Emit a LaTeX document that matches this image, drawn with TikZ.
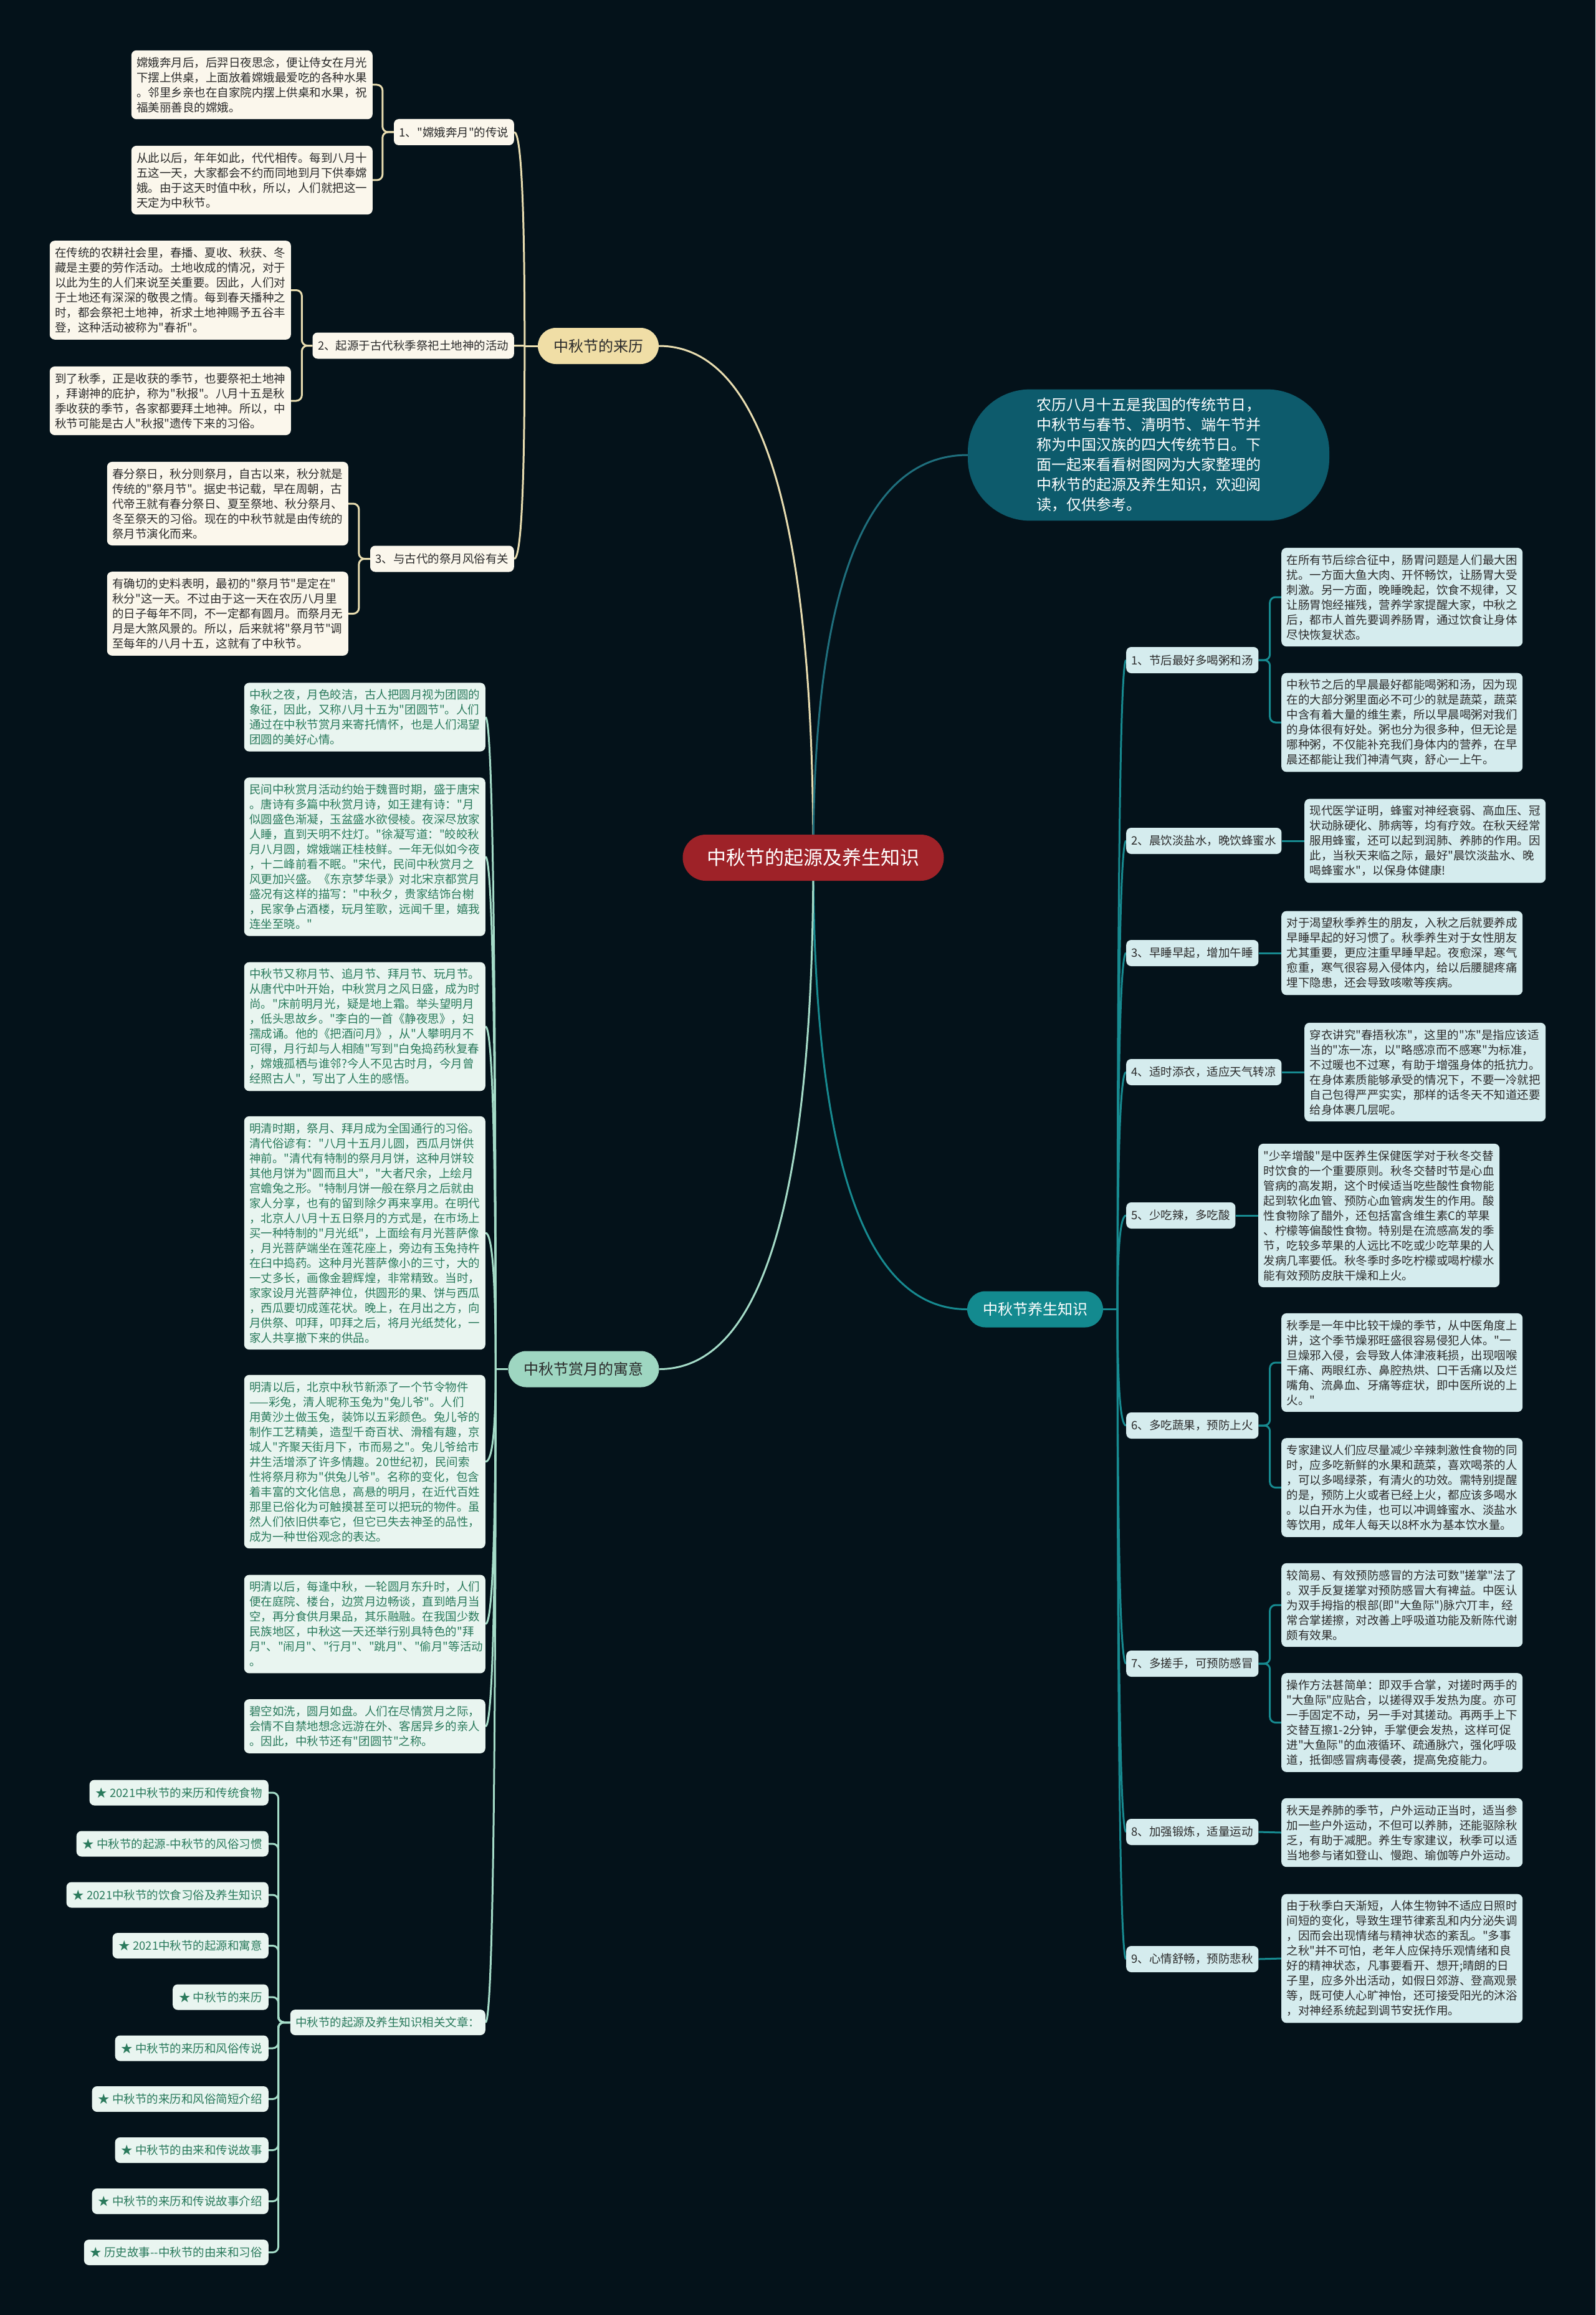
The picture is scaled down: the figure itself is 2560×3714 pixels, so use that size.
\documentclass[tikz,border=0pt]{standalone}
\usepackage{fontspec}
\newfontfamily\cjk{Noto Sans CJK SC}
\usetikzlibrary{calc}
\definecolor{bgc}{HTML}{04121A}
\definecolor{rootc}{HTML}{9E2228}
\definecolor{tanc}{HTML}{F0DEA6}
\definecolor{lineY}{HTML}{E9DDB0}
\definecolor{creamc}{HTML}{FBF7EC}
\definecolor{darktext}{HTML}{2B2B2B}
\definecolor{mintc}{HTML}{9ED6C1}
\definecolor{lineG}{HTML}{A5DCC8}
\definecolor{mintl}{HTML}{E9F5F0}
\definecolor{greentext}{HTML}{2A7A5C}
\definecolor{tealc}{HTML}{138A8F}
\definecolor{lineT}{HTML}{178A90}
\definecolor{cyanl}{HTML}{D5ECEE}
\definecolor{introc}{HTML}{0D5B6C}
\definecolor{lineI}{HTML}{1F6F7D}
\pgfdeclarelayer{bglayer}
\pgfdeclarelayer{edges}
\pgfsetlayers{bglayer,edges,main}
\newcommand\mmqcurve[3]{%
  \coordinate (qctl) at (#2 |- #3);
  \draw[#1] (#2) .. controls ($(#2)!0.667!(qctl)$) and ($(#3)!0.667!(qctl)$) .. (#3);}
\tikzset{
  basebox/.style={font=\cjk\fontsize{18.5}{24}\selectfont, inner xsep=8.5pt, inner ysep=10.5pt, rounded corners=8pt},
  leafY/.style={basebox, fill=creamc, text=darktext, text width=370pt, align=left},
  subY/.style={basebox, fill=creamc, text=darktext, minimum height=42pt, inner ysep=3pt},
  leafG/.style={basebox, fill=mintl, text=greentext, text width=370pt, align=left},
  itemG/.style={basebox, fill=mintl, text=greentext, minimum height=41pt, inner ysep=3pt, inner xsep=10pt},
  leafT/.style={basebox, fill=cyanl, text=darktext, text width=370pt, align=left},
  subT/.style={basebox, fill=cyanl, text=darktext, minimum height=42pt, inner ysep=3pt},
  mainbox/.style={font=\cjk\fontsize{24}{30}\selectfont, minimum height=58pt, inner xsep=25pt, inner ysep=3pt, rounded corners=29pt},
  mainY/.style={mainbox, fill=tanc, text=darktext},
  mainG/.style={mainbox, fill=mintc, text=darktext},
  mainT/.style={mainbox, fill=tealc, text=white},
  rootbox/.style={font=\cjk\fontsize{31}{36}\selectfont, fill=rootc, text=white, minimum height=74pt, inner xsep=39pt, inner ysep=3pt, rounded corners=37pt},
  introbox/.style={font=\cjk\fontsize{24}{32}\selectfont, fill=introc, text=white, text width=360pt, align=left, inner xsep=110pt, inner ysep=14pt, rounded corners=100pt},
  lnY/.style={draw=lineY, line width=3pt},
  lnG/.style={draw=lineG, line width=3pt},
  lnT/.style={draw=lineT, line width=3pt},
  lnI/.style={draw=lineI, line width=3pt}
}
\begin{document}
\begin{tikzpicture}[x=1pt,y=-1pt]
\begin{pgfonlayer}{bglayer}
\fill[bgc] (0,0) rectangle (2560,3714);
\end{pgfonlayer}
\path[use as bounding box] (0,0) rectangle (2560,3714);

% root and main branches
\node[rootbox] (root) at (1305,1376) {中秋节的起源及养生知识};
\node[introbox] (intro) at (1843,730) {农历八月十五是我国的传统节日，\\中秋节与春节、清明节、端午节并\\称为中国汉族的四大传统节日。下\\面一起来看看树图网为大家整理的\\中秋节的起源及养生知识，欢迎阅\\读，仅供参考。};
\node[mainY] (lai) at (960,555) {中秋节的来历};
\node[mainG] (shang) at (936.5,2196.5) {中秋节赏月的寓意};
\node[mainT] (yang) at (1661,2100.5) {中秋节养生知识};

% 来历 group
\node[subY, anchor=east] (s1) at (825,212) {1、"嫦娥奔月"的传说};
\node[subY, anchor=east] (s2) at (825,554.5) {2、起源于古代秋季祭祀土地神的活动};
\node[subY, anchor=east] (s3) at (825,896.5) {3、与古代的祭月风俗有关};
\node[leafY, anchor=east] (l1a) at (598,136) {嫦娥奔月后，后羿日夜思念，便让侍女在月光\\下摆上供桌，上面放着嫦娥最爱吃的各种水果\\。邻里乡亲也在自家院内摆上供桌和水果，祝\\福美丽善良的嫦娥。};
\node[leafY, anchor=east] (l1b) at (598,289) {从此以后，年年如此，代代相传。每到八月十\\五这一天，大家都会不约而同地到月下供奉嫦\\娥。由于这天时值中秋，所以，人们就把这一\\天定为中秋节。};
\node[leafY, anchor=east] (l2a) at (467,465.5) {在传统的农耕社会里，春播、夏收、秋获、冬\\藏是主要的劳作活动。土地收成的情况，对于\\以此为生的人们来说至关重要。因此，人们对\\于土地还有深深的敬畏之情。每到春天播种之\\时，都会祭祀土地神，祈求土地神赐予五谷丰\\登，这种活动被称为"春祈"。};
\node[leafY, anchor=east] (l2b) at (467,643) {到了秋季，正是收获的季节，也要祭祀土地神\\，拜谢神的庇护，称为"秋报"。八月十五是秋\\季收获的季节，各家都要拜土地神。所以，中\\秋节可能是古人"秋报"遗传下来的习俗。};
\node[leafY, anchor=east] (l3a) at (559,808) {春分祭日，秋分则祭月，自古以来，秋分就是\\传统的"祭月节"。据史书记载，早在周朝，古\\代帝王就有春分祭日、夏至祭地、秋分祭月、\\冬至祭天的习俗。现在的中秋节就是由传统的\\祭月节演化而来。};
\node[leafY, anchor=east] (l3b) at (559,984.5) {有确切的史料表明，最初的"祭月节"是定在"\\秋分"这一天。不过由于这一天在农历八月里\\的日子每年不同，不一定都有圆月。而祭月无\\月是大煞风景的。所以，后来就将"祭月节"调\\至每年的八月十五，这就有了中秋节。};

% 赏月 group
\node[leafG, anchor=east] (g1) at (779,1150.5) {中秋之夜，月色皎洁，古人把圆月视为团圆的\\象征，因此，又称八月十五为"团圆节"。人们\\通过在中秋节赏月来寄托情怀，也是人们渴望\\团圆的美好心情。};
\node[leafG, anchor=east] (g2) at (779,1374.5) {民间中秋赏月活动约始于魏晋时期，盛于唐宋\\。唐诗有多篇中秋赏月诗，如王建有诗："月\\似圆盛色渐凝，玉盆盛水欲侵棱。夜深尽放家\\人睡，直到天明不炷灯。"徐凝写道："皎皎秋\\月八月圆，嫦娥端正桂枝鲜。一年无似如今夜\\，十二峰前看不眠。"宋代，民间中秋赏月之\\风更加兴盛。《东京梦华录》对北宋京都赏月\\盛况有这样的描写："中秋夕，贵家结饰台榭\\，民家争占酒楼，玩月笙歌，远闻千里，嬉我\\连坐至晓。"};
\node[leafG, anchor=east] (g3) at (779,1647) {中秋节又称月节、追月节、拜月节、玩月节。\\从唐代中叶开始，中秋赏月之风日盛，成为时\\尚。"床前明月光，疑是地上霜。举头望明月\\，低头思故乡。"李白的一首《静夜思》，妇\\孺成诵。他的《把酒问月》，从"人攀明月不\\可得，月行却与人相随"写到"白兔捣药秋复春\\，嫦娥孤栖与谁邻?今人不见古时月，今月曾\\经照古人"，写出了人生的感悟。};
\node[leafG, anchor=east] (g4) at (779,1978) {明清时期，祭月、拜月成为全国通行的习俗。\\清代俗谚有："八月十五月儿圆，西瓜月饼供\\神前。"清代有特制的祭月月饼，这种月饼较\\其他月饼为"圆而且大"，"大者尺余，上绘月\\宫蟾兔之形。"特制月饼一般在祭月之后就由\\家人分享，也有的留到除夕再来享用。在明代\\，北京人八月十五日祭月的方式是，在市场上\\买一种特制的"月光纸"，上面绘有月光菩萨像\\，月光菩萨端坐在莲花座上，旁边有玉兔持杵\\在臼中捣药。这种月光菩萨像小的三寸，大的\\一丈多长，画像金碧辉煌，非常精致。当时，\\家家设月光菩萨神位，供圆形的果、饼与西瓜\\，西瓜要切成莲花状。晚上，在月出之方，向\\月供祭、叩拜，叩拜之后，将月光纸焚化，一\\家人共享撤下来的供品。};
\node[leafG, anchor=east] (g5) at (779,2345) {明清以后，北京中秋节新添了一个节令物件\\——彩兔，清人昵称玉兔为"兔儿爷"。人们\\用黄沙土做玉兔，装饰以五彩颜色。兔儿爷的\\制作工艺精美，造型千奇百状、滑稽有趣，京\\城人"齐聚天街月下，市而易之"。兔儿爷给市\\井生活增添了许多情趣。20世纪初，民间索\\性将祭月称为"供兔儿爷"。名称的变化，包含\\着丰富的文化信息，高悬的明月，在近代百姓\\那里已俗化为可触摸甚至可以把玩的物件。虽\\然人们依旧供奉它，但它已失去神圣的品性，\\成为一种世俗观念的表达。};
\node[leafG, anchor=east] (g6) at (779,2605.5) {明清以后，每逢中秋，一轮圆月东升时，人们\\便在庭院、楼台，边赏月边畅谈，直到皓月当\\空，再分食供月果品，其乐融融。在我国少数\\民族地区，中秋这一天还举行别具特色的"拜\\月"、"闹月"、"行月"、"跳月"、"偷月"等活动\\。};
\node[leafG, anchor=east] (g7) at (779,2769.5) {碧空如洗，圆月如盘。人们在尽情赏月之际，\\会情不自禁地想念远游在外、客居异乡的亲人\\。因此，中秋节还有"团圆节"之称。};
\node[itemG, anchor=east, inner xsep=8.5pt] (rel) at (779,3244.5) {中秋节的起源及养生知识相关文章：};
\node[itemG, anchor=east] (it1) at (431,2876) {★ 2021中秋节的来历和传统食物};
\node[itemG, anchor=east] (it2) at (431,2958) {★ 中秋节的起源-中秋节的风俗习惯};
\node[itemG, anchor=east] (it3) at (431,3040) {★ 2021中秋节的饮食习俗及养生知识};
\node[itemG, anchor=east] (it4) at (431,3121.5) {★ 2021中秋节的起源和寓意};
\node[itemG, anchor=east] (it5) at (431,3204) {★ 中秋节的来历};
\node[itemG, anchor=east] (it6) at (431,3286) {★ 中秋节的来历和风俗传说};
\node[itemG, anchor=east] (it7) at (431,3367.5) {★ 中秋节的来历和风俗简短介绍};
\node[itemG, anchor=east] (it8) at (431,3449.5) {★ 中秋节的由来和传说故事};
\node[itemG, anchor=east] (it9) at (431,3531.5) {★ 中秋节的来历和传说故事介绍};
\node[itemG, anchor=east] (it10) at (431,3613.5) {★ 历史故事-{}-中秋节的由来和习俗};

% 养生 group
\node[subT, anchor=west] (t1) at (1807,1059) {1、节后最好多喝粥和汤};
\node[subT, anchor=west] (t2) at (1807,1349) {2、晨饮淡盐水，晚饮蜂蜜水};
\node[subT, anchor=west] (t3) at (1807,1529) {3、早睡早起，增加午睡};
\node[subT, anchor=west] (t4) at (1807,1720) {4、适时添衣，适应天气转凉};
\node[subT, anchor=west] (t5) at (1807,1950) {5、少吃辣，多吃酸};
\node[subT, anchor=west] (t6) at (1807,2287) {6、多吃蔬果，预防上火};
\node[subT, anchor=west] (t7) at (1807,2669) {7、多搓手，可预防感冒};
\node[subT, anchor=west] (t8) at (1807,2939) {8、加强锻炼，适量运动};
\node[subT, anchor=west] (t9) at (1807,3143) {9、心情舒畅，预防悲秋};
\node[leafT, anchor=west] (t1a) at (2056,958) {在所有节后综合征中，肠胃问题是人们最大困\\扰。一方面大鱼大肉、开怀畅饮，让肠胃大受\\刺激。另一方面，晚睡晚起，饮食不规律，又\\让肠胃饱经摧残，营养学家提醒大家，中秋之\\后，都市人首先要调养肠胃，通过饮食让身体\\尽快恢复状态。};
\node[leafT, anchor=west] (t1b) at (2056,1159) {中秋节之后的早晨最好都能喝粥和汤，因为现\\在的大部分粥里面必不可少的就是蔬菜，蔬菜\\中含有着大量的维生素，所以早晨喝粥对我们\\的身体很有好处。粥也分为很多种，但无论是\\哪种粥，不仅能补充我们身体内的营养，在早\\晨还都能让我们神清气爽，舒心一上午。};
\node[leafT, anchor=west] (t2L) at (2093,1349) {现代医学证明，蜂蜜对神经衰弱、高血压、冠\\状动脉硬化、肺病等，均有疗效。在秋天经常\\服用蜂蜜，还可以起到润肺、养肺的作用。因\\此，当秋天来临之际，最好"晨饮淡盐水、晚\\喝蜂蜜水"，以保身体健康!};
\node[leafT, anchor=west] (t3L) at (2056,1529) {对于渴望秋季养生的朋友，入秋之后就要养成\\早睡早起的好习惯了。秋季养生对于女性朋友\\尤其重要，更应注重早睡早起。夜愈深，寒气\\愈重，寒气很容易入侵体内，给以后腰腿疼痛\\埋下隐患，还会导致咳嗽等疾病。};
\node[leafT, anchor=west] (t4L) at (2093,1720) {穿衣讲究"春捂秋冻"，这里的"冻"是指应该适\\当的"冻一冻，以"略感凉而不感寒"为标准，\\不过暖也不过寒，有助于增强身体的抵抗力。\\在身体素质能够承受的情况下，不要一冷就把\\自己包得严严实实，那样的话冬天不知道还要\\给身体裹几层呢。};
\node[leafT, anchor=west] (t5L) at (2019,1950) {"少辛增酸"是中医养生保健医学对于秋冬交替\\时饮食的一个重要原则。秋冬交替时节是心血\\管病的高发期，这个时候适当吃些酸性食物能\\起到软化血管、预防心血管病发生的作用。酸\\性食物除了醋外，还包括富含维生素C的苹果\\、柠檬等偏酸性食物。特别是在流感高发的季\\节，吃较多苹果的人远比不吃或少吃苹果的人\\发病几率要低。秋冬季时多吃柠檬或喝柠檬水\\能有效预防皮肤干燥和上火。};
\node[leafT, anchor=west] (t6a) at (2056,2186) {秋季是一年中比较干燥的季节，从中医角度上\\讲，这个季节燥邪旺盛很容易侵犯人体。"一\\旦燥邪入侵，会导致人体津液耗损，出现咽喉\\干痛、两眼红赤、鼻腔热烘、口干舌痛以及烂\\嘴角、流鼻血、牙痛等症状，即中医所说的上\\火。"};
\node[leafT, anchor=west] (t6b) at (2056,2386.5) {专家建议人们应尽量减少辛辣刺激性食物的同\\时，应多吃新鲜的水果和蔬菜，喜欢喝茶的人\\，可以多喝绿茶，有清火的功效。需特别提醒\\的是，预防上火或者已经上火，都应该多喝水\\。以白开水为佳，也可以冲调蜂蜜水、淡盐水\\等饮用，成年人每天以8杯水为基本饮水量。};
\node[leafT, anchor=west] (t7a) at (2056,2575) {较简易、有效预防感冒的方法可数"搓掌"法了\\。双手反复搓掌对预防感冒大有裨益。中医认\\为双手拇指的根部(即"大鱼际")脉穴丌丰，经\\常合掌搓擦，对改善上呼吸道功能及新陈代谢\\颇有效果。};
\node[leafT, anchor=west] (t7b) at (2056,2763.5) {操作方法甚简单：即双手合掌，对搓时两手的\\"大鱼际"应贴合，以搓得双手发热为度。亦可\\一手固定不动，另一手对其搓动。再两手上下\\交替互擦1-2分钟，手掌便会发热，这样可促\\进"大鱼际"的血液循环、疏通脉穴，强化呼吸\\道，抵御感冒病毒侵袭，提高免疫能力。};
\node[leafT, anchor=west] (t8L) at (2056,2940) {秋天是养肺的季节，户外运动正当时，适当参\\加一些户外运动，不但可以养肺，还能驱除秋\\乏，有助于减肥。养生专家建议，秋季可以适\\当地参与诸如登山、慢跑、瑜伽等户外运动。};
\node[leafT, anchor=west] (t9L) at (2056,3142) {由于秋季白天渐短，人体生物钟不适应日照时\\间短的变化，导致生理节律紊乱和内分泌失调\\，因而会出现情绪与精神状态的紊乱。"多事\\之秋"并不可怕，老年人应保持乐观情绪和良\\好的精神状态，凡事要看开、想开;晴朗的日\\子里，应多外出活动，如假日郊游、登高观景\\等，既可使人心旷神怡，还可接受阳光的沐浴\\，对神经系统起到调节安抚作用。};

% connectors
\begin{pgfonlayer}{edges}
\mmqcurve{lnY}{root.center}{lai.east}
\mmqcurve{lnI}{root.center}{intro.west}
\mmqcurve{lnT}{root.center}{yang.west}
\mmqcurve{lnG}{root.center}{shang.east}
% 来历
\coordinate (laisp) at ($(lai.west)+(-21,0)$);
\draw[lnY] (lai.west) -- (laisp);
\mmqcurve{lnY}{laisp}{s1.east}
\mmqcurve{lnY}{laisp}{s2.east}
\mmqcurve{lnY}{laisp}{s3.east}
\draw[lnY, rounded corners=9pt] (s1.west) -- ++(-18,0) |- (l1a.east);
\draw[lnY, rounded corners=9pt] (s1.west) -- ++(-18,0) |- (l1b.east);
\draw[lnY, rounded corners=9pt] (s2.west) -- ++(-17,0) |- (l2a.east);
\draw[lnY, rounded corners=9pt] (s2.west) -- ++(-17,0) |- (l2b.east);
\draw[lnY, rounded corners=9pt] (s3.west) -- ++(-18,0) |- (l3a.east);
\draw[lnY, rounded corners=9pt] (s3.west) -- ++(-18,0) |- (l3b.east);
% 赏月
\coordinate (shsp) at ($(shang.west)+(-20,0)$);
\draw[lnG] (shang.west) -- (shsp);
\mmqcurve{lnG}{shsp}{g1.east}
\mmqcurve{lnG}{shsp}{g2.east}
\mmqcurve{lnG}{shsp}{g3.east}
\mmqcurve{lnG}{shsp}{g4.east}
\mmqcurve{lnG}{shsp}{g5.east}
\mmqcurve{lnG}{shsp}{g6.east}
\mmqcurve{lnG}{shsp}{g7.east}
\mmqcurve{lnG}{shsp}{rel.east}
\foreach \i in {1,...,10}{
  \draw[lnG, rounded corners=9pt] (rel.west) -- ++(-19,0) |- (it\i.east);
}
% 养生
\coordinate (ysp) at ($(yang.east)+(23,0)$);
\draw[lnT] (yang.east) -- (ysp);
\foreach \i in {1,...,9}{
  \mmqcurve{lnT}{ysp}{t\i.west}
}
\draw[lnT, rounded corners=9pt] (t1.east) -- ++(18,0) |- (t1a.west);
\draw[lnT, rounded corners=9pt] (t1.east) -- ++(18,0) |- (t1b.west);
\draw[lnT] (t2.east) -- (t2L.west);
\draw[lnT] (t3.east) -- (t3L.west);
\draw[lnT] (t4.east) -- (t4L.west);
\draw[lnT] (t5.east) -- (t5L.west);
\draw[lnT, rounded corners=9pt] (t6.east) -- ++(18,0) |- (t6a.west);
\draw[lnT, rounded corners=9pt] (t6.east) -- ++(18,0) |- (t6b.west);
\draw[lnT, rounded corners=9pt] (t7.east) -- ++(18,0) |- (t7a.west);
\draw[lnT, rounded corners=9pt] (t7.east) -- ++(18,0) |- (t7b.west);
\draw[lnT] (t8.east) -- (t8L.west);
\draw[lnT] (t9.east) -- (t9L.west);
\end{pgfonlayer}
\end{tikzpicture}
\end{document}
